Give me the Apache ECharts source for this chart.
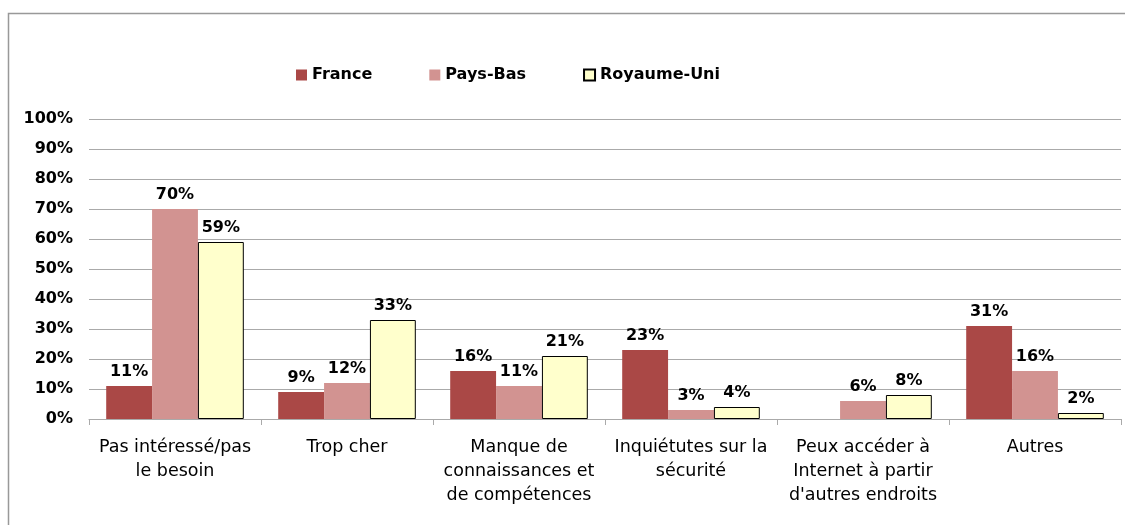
<!DOCTYPE html>
<html>
<head>
<meta charset="utf-8">
<script src="https://cdn.jsdelivr.net/npm/echarts@6/dist/echarts.min.js"></script>
<style>
html,body{margin:0;padding:0;background:#fff;}
#main{width:1125px;height:525px;}
</style>
</head>
<body>
<div id="main"></div>
<script>
var categories = ['Pas intéressé/pas\nle besoin', 'Trop cher', 'Manque de\nconnaissances et\nde compétences', 'Inquiétutes sur la\nsécurité', 'Peux accéder à\nInternet à partir\nd\'autres endroits', 'Autres'];
var france = [11, 9, 16, 23, '-', 31];
var paysBas = [70, 12, 11, 3, 6, 16];
var royaumeUni = [59, 33, 21, 4, 8, 2];

var fontFam = '"DejaVu Sans", "Liberation Sans", sans-serif';
var myChart = echarts.init(document.getElementById('main'));

// etiquettes au-dessus des barres
function lbl() {
	return {
		show: true,
		position: 'top',
		distance: 6,
		formatter: '{c}%',
		color: '#000',
		fontSize: 16,
		fontWeight: 'bold',
		fontFamily: fontFam
	};
}

var option = {
	backgroundColor: '#fff',
	animation: false,
	graphic: [{
		type: 'rect',
		shape: {x: 8.5, y: 13.5, width: 1140, height: 540},
		style: {fill: 'none', stroke: '#999', lineWidth: 1.5},
		silent: true
	}],
	legend: {
		data: ['France', 'Pays-Bas', 'Royaume-Uni'],
		left: 291,
		top: 62,
		itemWidth: 11,
		itemHeight: 11,
		itemGap: 57,
		icon: 'rect',
		textStyle: {fontSize: 16, fontWeight: 'bold', color: '#000', fontFamily: fontFam}
	},
	grid: {left: 89, right: 4, top: 119, bottom: 106, containLabel: false},
	xAxis: {
		type: 'category',
		data: categories,
		axisLine: {lineStyle: {color: '#aaa', width: 1}},
		axisTick: {show: true, length: 6, lineStyle: {color: '#aaa'}},
		axisLabel: {
			color: '#000',
			fontSize: 17.5,
			fontFamily: fontFam,
			lineHeight: 24,
			margin: 16,
			interval: 0
		}
	},
	yAxis: {
		type: 'value',
		min: 0,
		max: 100,
		interval: 10,
		axisLine: {show: false},
		axisTick: {show: false},
		splitLine: {lineStyle: {color: '#aaa', width: 1}},
		axisLabel: {
			formatter: '{value}%',
			color: '#000',
			fontSize: 16,
			fontWeight: 'bold',
			fontFamily: fontFam,
			margin: 16
		}
	},
	series: [
		{
			name: 'France',
			type: 'bar',
			data: france,
			barGap: '0%',
			barCategoryGap: '20%',
			itemStyle: {color: '#AA4846'},
			label: lbl()
		},
		{
			name: 'Pays-Bas',
			type: 'bar',
			data: paysBas,
			itemStyle: {color: '#D29391'},
			label: lbl()
		},
		{
			name: 'Royaume-Uni',
			type: 'bar',
			data: royaumeUni,
			itemStyle: {color: '#FFFFCC', borderColor: '#000', borderWidth: 1},
			label: lbl()
		}
	]
};
myChart.setOption(option);
</script>
</body>
</html>
